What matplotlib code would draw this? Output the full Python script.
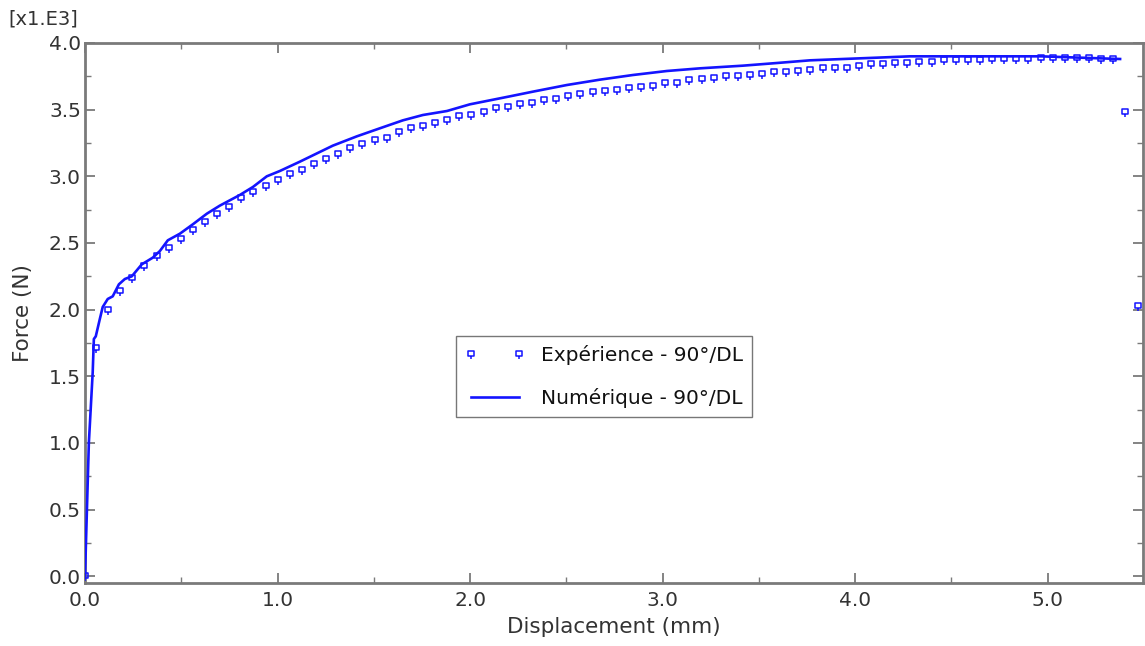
import matplotlib
matplotlib.use("Agg")
import matplotlib.pyplot as plt
from matplotlib.path import Path
from matplotlib.ticker import MultipleLocator, FormatStrFormatter

# Experimental force-displacement curve (force in kN units, axis scaled x1.E3)
exp_disp = [
    0.000, 0.057, 0.120, 0.183, 0.246, 0.309, 0.372, 0.434, 0.497, 0.560,
    0.623, 0.686, 0.749, 0.812, 0.875, 0.938, 1.001, 1.063, 1.126, 1.189,
    1.252, 1.315, 1.378, 1.441, 1.504, 1.567, 1.630, 1.692, 1.755, 1.818,
    1.881, 1.944, 2.007, 2.070, 2.133, 2.196, 2.259, 2.321, 2.384, 2.447,
    2.510, 2.573, 2.636, 2.699, 2.762, 2.825, 2.888, 2.950, 3.013, 3.076,
    3.139, 3.202, 3.265, 3.328, 3.391, 3.454, 3.517, 3.579, 3.642, 3.705,
    3.768, 3.831, 3.894, 3.957, 4.020, 4.083, 4.146, 4.208, 4.271, 4.334,
    4.397, 4.460, 4.523, 4.586, 4.649, 4.712, 4.775, 4.837, 4.900, 4.963,
    5.026, 5.089, 5.152, 5.215, 5.278, 5.341, 5.404, 5.467,
]
exp_force = [
    0.00, 1.71, 2.00, 2.14, 2.24, 2.33, 2.40, 2.46, 2.53, 2.60,
    2.66, 2.72, 2.77, 2.84, 2.88, 2.93, 2.97, 3.02, 3.05, 3.09,
    3.13, 3.17, 3.21, 3.24, 3.27, 3.29, 3.33, 3.36, 3.38, 3.40,
    3.42, 3.45, 3.46, 3.48, 3.51, 3.52, 3.54, 3.55, 3.57, 3.58,
    3.60, 3.62, 3.63, 3.64, 3.65, 3.66, 3.67, 3.68, 3.70, 3.70,
    3.72, 3.73, 3.74, 3.75, 3.75, 3.76, 3.77, 3.78, 3.78, 3.79,
    3.80, 3.81, 3.81, 3.81, 3.83, 3.84, 3.84, 3.85, 3.85, 3.86,
    3.86, 3.87, 3.87, 3.87, 3.87, 3.88, 3.88, 3.88, 3.88, 3.89,
    3.89, 3.89, 3.89, 3.89, 3.88, 3.88, 3.48, 2.03,
]

# Numerical (simulation) curve
num_disp = [
    0.000, 0.020, 0.040, 0.046, 0.056, 0.077, 0.092, 0.118, 0.144, 0.176,
    0.207, 0.243, 0.295, 0.352, 0.389, 0.430, 0.493, 0.560, 0.633, 0.700,
    0.804, 0.872, 0.944, 1.012, 1.116, 1.287, 1.412, 1.531, 1.651, 1.755,
    1.880, 1.999, 2.103, 2.207, 2.326, 2.503, 2.674, 2.846, 3.022, 3.194,
    3.417, 3.594, 3.765, 3.937, 4.114, 4.285, 4.493, 4.966, 5.168, 5.376,
]
num_force = [
    0.00, 1.00, 1.53, 1.78, 1.80, 1.93, 2.02, 2.08, 2.10, 2.19,
    2.23, 2.25, 2.34, 2.39, 2.44, 2.52, 2.57, 2.64, 2.72, 2.78,
    2.86, 2.92, 3.00, 3.04, 3.11, 3.23, 3.30, 3.36, 3.42, 3.46,
    3.49, 3.54, 3.57, 3.60, 3.635, 3.685, 3.725, 3.76, 3.79, 3.81,
    3.83, 3.85, 3.87, 3.88, 3.89, 3.90, 3.90, 3.90, 3.89, 3.88,
]

exp_label = "Expérience - 90°/DL"
num_label = "Numérique - 90°/DL"

BLUE = "#1414ff"
GREY = "#7a7a7a"
TEXT = "#333333"

plt.rcParams["font.family"] = ["DejaVu Sans"]

# small open square with a short tail underneath
pin = Path(
    [(-1, -0.9), (1, -0.9), (1, 1.1), (-1, 1.1), (-1, -0.9), (0, -0.9), (0, -1.9)],
    [Path.MOVETO, Path.LINETO, Path.LINETO, Path.LINETO, Path.CLOSEPOLY,
     Path.MOVETO, Path.LINETO],
)

fig = plt.figure(figsize=(11.45, 6.46), dpi=100)
ax = fig.add_axes([85 / 1145, 1 - 583 / 646, (1143 - 85) / 1145, (583 - 43) / 646])

ax.plot(num_disp, num_force, color=BLUE, lw=1.9, label=num_label, zorder=3)
ax.plot(exp_disp, exp_force, ls="none", marker=pin, ms=7.5, mfc="none",
        mec=BLUE, mew=1.1, label=exp_label, zorder=4)

ax.set_xlim(0.0, 5.495)
ax.set_ylim(-0.05, 4.0)

ax.xaxis.set_major_locator(MultipleLocator(1.0))
ax.xaxis.set_minor_locator(MultipleLocator(0.5))
ax.yaxis.set_major_locator(MultipleLocator(0.5))
ax.yaxis.set_minor_locator(MultipleLocator(0.25))
ax.xaxis.set_major_formatter(FormatStrFormatter("%.1f"))
ax.yaxis.set_major_formatter(FormatStrFormatter("%.1f"))

ax.tick_params(which="both", direction="in", top=True, right=True,
               color=GREY, labelcolor=TEXT, labelsize=14.5)
ax.tick_params(which="major", length=7, width=1.3)
ax.tick_params(which="minor", length=4, width=1.0)
ax.tick_params(axis="x", which="major", pad=6)
ax.tick_params(axis="y", which="major", pad=3)

for s in ax.spines.values():
    s.set_color(GREY)
    s.set_linewidth(2.0)

ax.set_xlabel("Displacement (mm)", fontsize=15.5, color=TEXT, labelpad=5)
ax.set_ylabel("Force (N)", fontsize=15.5, color=TEXT, labelpad=11)
fig.text(8 / 1145, 1 - 19 / 646, "[x1.E3]", fontsize=14, color=TEXT,
         ha="left", va="center")

handles, labels = ax.get_legend_handles_labels()
leg = ax.legend(handles[::-1], labels[::-1], loc="center",
                bbox_to_anchor=(0.4905, 0.382), fontsize=14.5, numpoints=2,
                frameon=True, fancybox=False, handlelength=3.0,
                handletextpad=0.8, borderpad=0.45, labelspacing=1.15,
                borderaxespad=0)
leg.get_frame().set_edgecolor("#555555")
leg.get_frame().set_linewidth(1.0)
for t in leg.get_texts():
    t.set_color("#111111")

fig.savefig("out.png", dpi=100)
